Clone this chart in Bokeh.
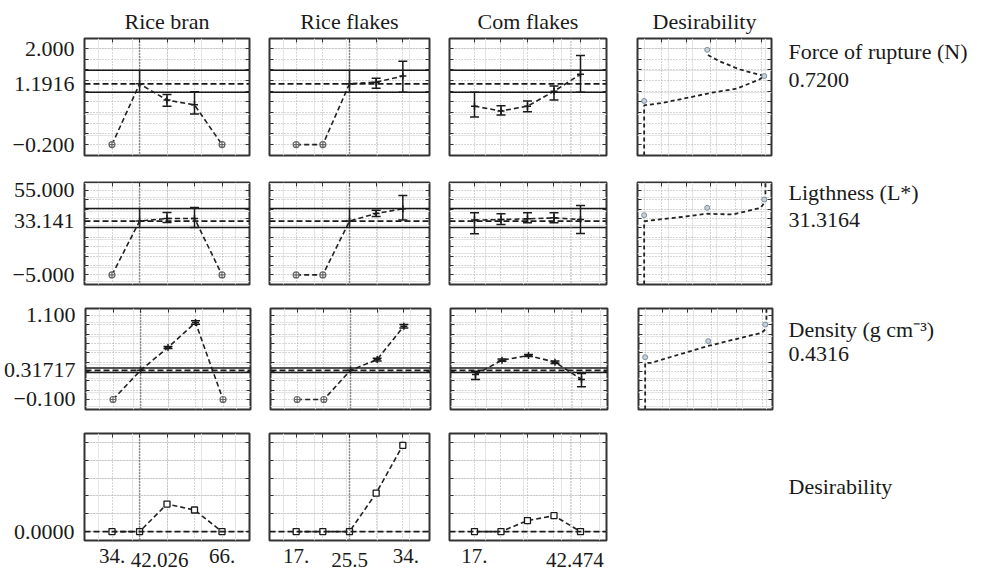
import numpy as np
from bokeh.plotting import figure
from bokeh.models import (Range1d, LinearAxis, FixedTicker, Grid, Span, Whisker,
                          TeeHead, ColumnDataSource, Spacer)
from bokeh.layouts import row, column
from bokeh.embed import file_html
from bokeh.resources import INLINE
from bokeh.core.properties import value

FONT = "Liberation Serif"
INK = "#1a1a1a"

# ---------------- data ----------------
factor_names = ["Rice bran", "Rice flakes", "Com flakes", "Desirability"]
rb_levels = [34, 42.026, 50, 58, 66]
rf_levels = [17, 21.25, 25.5, 29.75, 34]
cf_levels = [17, 24, 31, 38, 45]
current_settings = [42.026, 25.5, 42.474]

x_tick_values = [[34, 42.026, 66], [17, 25.5, 34], [17, 42.474]]
x_tick_labels = [["34.", "42.026", "66."], ["17.", "25.5", "34."], ["17.", "42.474"]]
x_tick_tier = [[0, 1, 0], [0, 1, 0], [0, 1]]

response_names = ["Force of rupture (N)", "Ligthness (L*)", "Density (g cm\u207b\u00b3)", "Desirability"]
response_values = ["0.7200", "31.3164", "0.4316", ""]
predicted = [1.1916, 33.141, 0.31717, 0.0]
pred_ci_lo = [1.00, 28.6, 0.285]
pred_ci_hi = [1.50, 42.0, 0.350]
y_tick_values = [[2.0, 1.1916, -0.2], [55.0, 33.141, -5.0], [1.1, 0.31717, -0.1], [0.0]]
y_tick_labels = [["2.000", "1.1916", "\u22120.200"], ["55.000", "33.141", "\u22125.000"],
                 ["1.100", "0.31717", "\u22120.100"], ["0.0000"]]

# Force of rupture
force_rb = [-0.2, 1.1916, 0.82, 0.71, -0.2]
force_rb_lo = [None, None, 0.68, 0.50, None]
force_rb_hi = [None, None, 0.95, 1.01, None]
force_rf = [-0.2, -0.2, 1.1916, 1.23, 1.37]
force_rf_lo = [None, None, None, 1.09, 1.00]
force_rf_hi = [None, None, None, 1.32, 1.71]
force_cf = [0.68, 0.57, 0.68, 1.02, 1.41]
force_cf_lo = [0.43, 0.48, 0.55, 0.82, 1.00]
force_cf_hi = [1.00, 0.69, 0.80, 1.14, 1.84]
# Lightness
light_rb = [-5.0, 33.141, 35.0, 35.0, -5.0]
light_rb_lo = [None, None, 32.1, 28.6, None]
light_rb_hi = [None, None, 39.2, 42.7, None]
light_rf = [-5.0, -5.0, 33.141, 38.5, 41.8]
light_rf_lo = [None, None, None, 36.4, 33.8]
light_rf_hi = [None, None, None, 40.8, 51.2]
light_cf = [33.8, 34.2, 34.7, 35.4, 34.2]
light_cf_lo = [24.2, 30.7, 31.9, 31.9, 24.3]
light_cf_hi = [39.0, 38.3, 39.0, 39.0, 44.2]
# Density
dens_rb = [-0.1, 0.31717, 0.643, 1.0, -0.1]
dens_rb_lo = [None, None, 0.628, 0.975, None]
dens_rb_hi = [None, None, 0.658, 1.025, None]
dens_rf = [-0.1, -0.1, 0.31717, 0.471, 0.947]
dens_rf_lo = [None, None, None, 0.451, 0.922]
dens_rf_hi = [None, None, None, 0.491, 0.972]
dens_cf = [0.257, 0.461, 0.529, 0.433, 0.186]
dens_cf_lo = [0.186, 0.445, 0.515, 0.415, 0.081]
dens_cf_hi = [0.304, 0.477, 0.543, 0.451, 0.271]
# Overall desirability
des_rb = [0.0, 0.0, 0.309, 0.242, 0.0]
des_rf = [0.0, 0.0, 0.0, 0.431, 0.967]
des_cf = [0.0, 0.0, 0.123, 0.178, 0.0]

# Desirability functions (x = desirability, y = response)
dfun_force_d = [0, 0, 0.14, 0.32, 0.56, 0.76, 0.95, 0.99, 0.79, 0.62, 0.52]
dfun_force_y = [-0.45, 0.70, 0.75, 0.85, 0.99, 1.08, 1.29, 1.37, 1.52, 1.71, 1.86]
dmark_force_d = [0, 0.99, 0.52]
dmark_force_y = [0.80, 1.37, 1.97]
dfun_light_d = [0, 0, 0.35, 0.52, 0.73, 0.96, 1.0, 1.0]
dfun_light_y = [-11.8, 33.0, 36.5, 38.3, 37.8, 42.5, 47.2, 60.45]
dmark_light_d = [0, 0.52, 0.99]
dmark_light_y = [37.3, 42.5, 48.4]
dfun_dens_d = [0, 0, 0.05, 0.51, 0.96, 0.99, 1.0, 1.0]
dfun_dens_y = [-0.243, 0.424, 0.424, 0.661, 0.853, 0.90, 0.95, 1.2]
dmark_dens_d = [0, 0.52, 0.99]
dmark_dens_y = [0.504, 0.733, 0.971]
des_grid = [0.145, 0.345, 0.55, 0.757, 0.964]

levels = [rb_levels, rf_levels, cf_levels]
values = [[force_rb, force_rf, force_cf], [light_rb, light_rf, light_cf],
          [dens_rb, dens_rf, dens_cf], [des_rb, des_rf, des_cf]]
lows = [[force_rb_lo, force_rf_lo, force_cf_lo], [light_rb_lo, light_rf_lo, light_cf_lo],
        [dens_rb_lo, dens_rf_lo, dens_cf_lo]]
highs = [[force_rb_hi, force_rf_hi, force_cf_hi], [light_rb_hi, light_rf_hi, light_cf_hi],
         [dens_rb_hi, dens_rf_hi, dens_cf_hi]]
dfun = [(dfun_force_d, dfun_force_y, dmark_force_d, dmark_force_y),
        (dfun_light_d, dfun_light_y, dmark_light_d, dmark_light_y),
        (dfun_dens_d, dfun_dens_y, dmark_dens_d, dmark_dens_y)]

# ---------------- layout / style ----------------
FRAME_W = [165, 160, 157, 134]
BORDER_L = [84, 10, 10, 21]
BORDER_R = [10, 10, 10, 6]
FRAME_H = [117, 102, 101, 107]
BORDER_T = [38, 14, 13, 13]
BORDER_B = [13, 11, 11, 4]
X_RANGES = [(26, 74), (12.75, 38.25), (10.4, 51.87), (-0.055, 1.05)]
Y_RANGES = [(-0.45, 2.23), (-11.8, 60.45), (-0.243, 1.2), (-0.1, 1.1)]
STRIP_H = 27
TIER_Y = [11.6, 15.4]
LABEL_DX = [[0, 20, 0], [0, 0, 3], [0, 4]]

y_grids = [list(np.linspace(y_tick_values[r][-1], y_tick_values[r][0], 10)) for r in range(3)]
y_grids.append([0.0, 0.2, 0.4, 0.6, 0.8, 1.0])

x_ranges = [Range1d(*X_RANGES[c]) for c in range(4)]


def add_axis(p, side, ticks, labels, minor):
    a = LinearAxis(ticker=FixedTicker(ticks=ticks, minor_ticks=minor))
    a.axis_line_color = None
    a.major_tick_in = 0
    a.major_tick_out = 0
    a.minor_tick_out = 0
    a.minor_tick_in = 4
    a.minor_tick_line_color = "#333333"
    a.minor_tick_line_width = 1
    a.major_label_text_font = FONT
    a.major_label_text_font_size = "22px"
    a.major_label_text_color = INK
    a.major_label_standoff = 10
    if labels:
        a.major_label_overrides = {t: s for t, s in zip(ticks, labels)}
    p.add_layout(a, side)


def panel(r, c):
    p = figure(frame_width=FRAME_W[c], frame_height=FRAME_H[r],
               x_range=x_ranges[c], y_range=Range1d(*Y_RANGES[r]),
               output_backend="svg", toolbar_location=None,
               x_axis_location=None, y_axis_location=None,
               min_border_left=BORDER_L[c], min_border_right=BORDER_R[c],
               min_border_top=BORDER_T[r], min_border_bottom=BORDER_B[r],
               title=(factor_names[c] if r == 0 else None))
    if r == 0:
        p.title.text_font = FONT
        p.title.text_font_size = "22px"
        p.title.text_font_style = "normal"
        p.title.text_color = INK
        p.title.align = "center"
        p.title.standoff = 9
    p.outline_line_color = "#333333"
    p.outline_line_width = 2
    xg = levels[c] if c < 3 else des_grid
    yg = y_grids[r]
    p.add_layout(Grid(dimension=0, ticker=FixedTicker(ticks=xg), grid_line_color="#adadad",
                      grid_line_dash="1 2", grid_line_width=1))
    p.add_layout(Grid(dimension=1, ticker=FixedTicker(ticks=yg), grid_line_color="#adadad",
                      grid_line_dash="1 2", grid_line_width=1))
    if c == 0:
        add_axis(p, "left", y_tick_values[r], y_tick_labels[r], yg)
    else:
        add_axis(p, "left", [], None, yg)
    add_axis(p, "right", [], None, yg)
    add_axis(p, "above", [], None, xg)

    if c < 3:
        cur = current_settings[c]
        if r < 3:
            p.add_layout(Span(location=pred_ci_hi[r], dimension="width", line_color=INK, line_width=1.5))
            p.add_layout(Span(location=pred_ci_lo[r], dimension="width", line_color=INK, line_width=1.5))
        p.add_layout(Span(location=predicted[r], dimension="width", line_color=INK, line_width=1.8,
                          line_dash="6 3"))
        p.add_layout(Span(location=cur, dimension="height",
                          line_color=("#333333" if c < 2 else "#9a9a9a"), line_width=1.5,
                          line_dash="1 2"))
        xs = levels[c]
        ys = values[r][c]
        p.line(xs, ys, line_color="#222222", line_width=1.6, line_dash="5 3")
        if r < 3:
            lo = lows[r][c]
            hi = highs[r][c]
            wx = [x for x, l in zip(xs, lo) if l is not None]
            wl = [l for l in lo if l is not None]
            wh = [h for h in hi if h is not None]
            if wx:
                src = ColumnDataSource(dict(x=wx, lo=wl, hi=wh))
                p.add_layout(Whisker(source=src, base="x", lower="lo", upper="hi",
                                     line_color=INK, line_width=1.5,
                                     upper_head=TeeHead(size=9, line_color=INK, line_width=1.5),
                                     lower_head=TeeHead(size=9, line_color=INK, line_width=1.5)))
            if c < 2:
                p.segment(x0=[cur], y0=[pred_ci_lo[r]], x1=[cur], y1=[pred_ci_hi[r]],
                          line_color=INK, line_width=1.5)
            inner = [(l is not None or x == cur) for x, l in zip(xs, lo)]
            p.scatter([x for x, k in zip(xs, inner) if k], [y for y, k in zip(ys, inner) if k],
                      marker="cross", size=7, line_color=INK, line_width=1.5)
            p.scatter([x for x, k in zip(xs, inner) if not k], [y for y, k in zip(ys, inner) if not k],
                      marker="circle_cross", size=6, line_color="#666666",
                      fill_color="white", line_width=1.2)
        else:
            p.scatter(xs, ys, marker="square", size=6, line_color=INK, fill_color="white",
                      line_width=1.3)
    else:
        d, y, md, my = dfun[r]
        p.line(d, y, line_color="#222222", line_width=1.8, line_dash="4 3")
        p.scatter(md, my, marker="circle", size=5, line_color="#7f8fa0", fill_color="#c8d0d8",
                  line_width=1)
    return p


rows = []
for r in range(4):
    kids = [panel(r, c) for c in range(3)]
    if r < 3:
        kids.append(panel(r, 3))
    else:
        kids.append(Spacer(width=BORDER_L[3] + FRAME_W[3] + BORDER_R[3],
                           height=BORDER_T[3] + FRAME_H[3] + BORDER_B[3]))
    rows.append(row(*kids))

# bottom factor-value labels (staggered like the original)
strips = []
for c in range(3):
    s = figure(frame_width=FRAME_W[c], frame_height=STRIP_H, x_range=x_ranges[c],
               y_range=Range1d(STRIP_H, 0), output_backend="svg", toolbar_location=None,
               x_axis_location=None, y_axis_location=None,
               min_border_left=BORDER_L[c], min_border_right=BORDER_R[c],
               min_border_top=0, min_border_bottom=0, title=None)
    s.outline_line_color = None
    s.xgrid.visible = False
    s.ygrid.visible = False
    src = ColumnDataSource(dict(x=x_tick_values[c], y=[TIER_Y[t] for t in x_tick_tier[c]],
                                text=x_tick_labels[c], dx=LABEL_DX[c]))
    s.text(x="x", y="y", text="text", x_offset="dx", source=src,
           text_font=value(FONT), text_font_size="21px", text_color=INK,
           text_align="center", text_baseline="middle")
    strips.append(s)
rows.append(row(*strips))

grid_col = column(*rows)
TOTAL_H = sum(BORDER_T[r] + FRAME_H[r] + BORDER_B[r] for r in range(4)) + STRIP_H

# response names on the right
name_y = [51, 192, 329, 486]
value_y = [79, 219, 353, 0]
tf = figure(width=198, height=TOTAL_H, x_range=Range1d(0, 198), y_range=Range1d(TOTAL_H, 0),
            output_backend="svg", toolbar_location=None, x_axis_location=None,
            y_axis_location=None, min_border=0, title=None)
tf.outline_line_color = None
tf.xgrid.visible = False
tf.ygrid.visible = False
txt = []
ty = []
for n, v, yn, yv in zip(response_names, response_values, name_y, value_y):
    txt.append(n)
    ty.append(yn)
    if v:
        txt.append(v)
        ty.append(yv)
tf.text(x=[10] * len(txt), y=ty, text=txt, text_font=value(FONT), text_font_size="22px",
        text_color=INK, text_align="left", text_baseline="middle")

layout = row(grid_col, tf)
open("out.html", "w").write(file_html(layout, INLINE))
